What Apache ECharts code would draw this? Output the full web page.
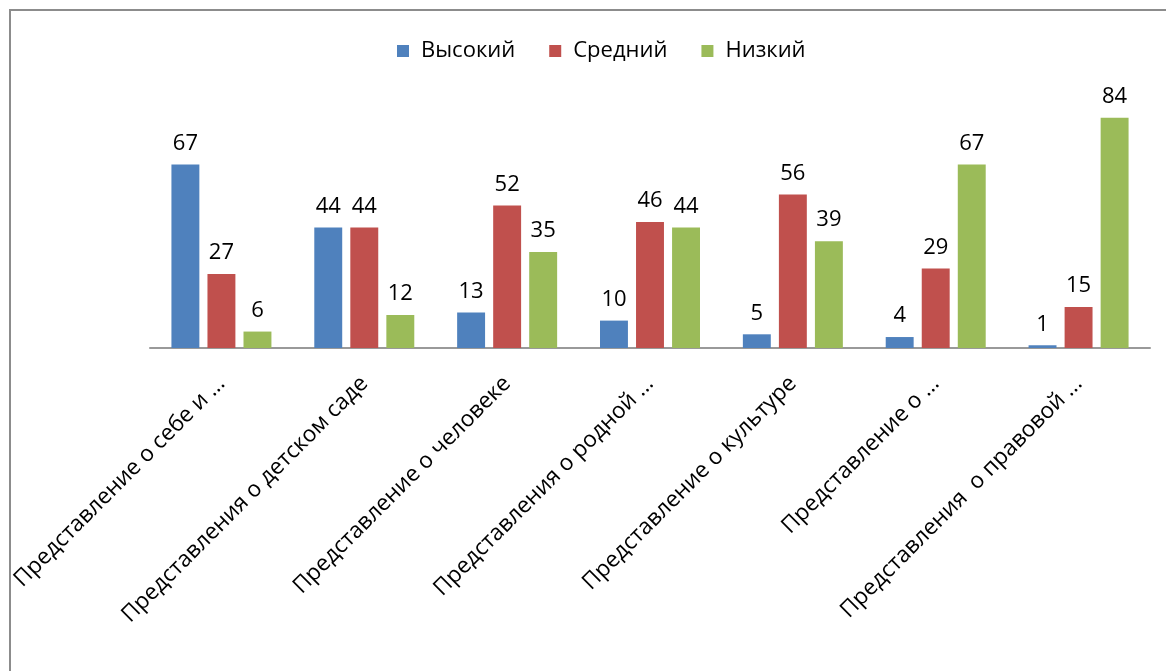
<!DOCTYPE html>
<html><head><meta charset="utf-8">
<script src="https://cdn.jsdelivr.net/npm/echarts@6/dist/echarts.min.js"></script>
<style>html,body{margin:0;padding:0;background:#fff}#c{width:1166px;height:671px}</style>
</head><body><div id="c"></div>
<script>
const categories = ["Представление о себе и ...", "Представления о детском саде", "Представление о человеке", "Представления о родной ...", "Представление о культуре", "Представление о ...", "Представления  о правовой ..."];
const seriesNames = ["Высокий", "Средний", "Низкий"];
const high = [67, 44, 13, 10, 5, 4, 1];
const mid = [27, 44, 52, 46, 56, 29, 15];
const low = [6, 12, 35, 44, 39, 67, 84];
const colors = ["#4f81bd", "#c0504d", "#9bbb59"];
const font = "'Open Sans', 'DejaVu Sans', sans-serif";
const chart = echarts.init(document.getElementById('c'));
const mk = (name, data, i) => ({
  name, type: 'bar', data, barGap: '29%', barCategoryGap: '30%',
  itemStyle: {color: colors[i]},
  label: {show: true, position: 'top', distance: 10, color: '#000', fontSize: 22, fontFamily: font}
});
chart.setOption({
  animation: false,
  graphic: [{type: 'rect', shape: {x: 10, y: 10, width: 1200, height: 700}, style: {fill: 'none', stroke: '#8c8c8c', lineWidth: 2}, z: -1}],
  legend: {top: 35, left: 392, itemWidth: 12, itemHeight: 12, itemGap: 34, icon: 'rect',
    textStyle: {fontSize: 22, fontFamily: font, color: '#000', padding: [0, 0, 0, 7]}, data: seriesNames},
  grid: {left: 150, right: 16, top: 74, bottom: 323, containLabel: false},
  xAxis: {type: 'category', data: categories,
    axisLine: {lineStyle: {color: '#999', width: 2}}, axisTick: {show: false},
    axisLabel: {rotate: 45, interval: 0, margin: 32, fontSize: 22.5, fontFamily: font, color: '#000'}},
  yAxis: {type: 'value', min: 0, max: 100, show: false, splitLine: {show: false}},
  series: [mk(seriesNames[0], high, 0), mk(seriesNames[1], mid, 1), mk(seriesNames[2], low, 2)]
});
</script></body></html>
